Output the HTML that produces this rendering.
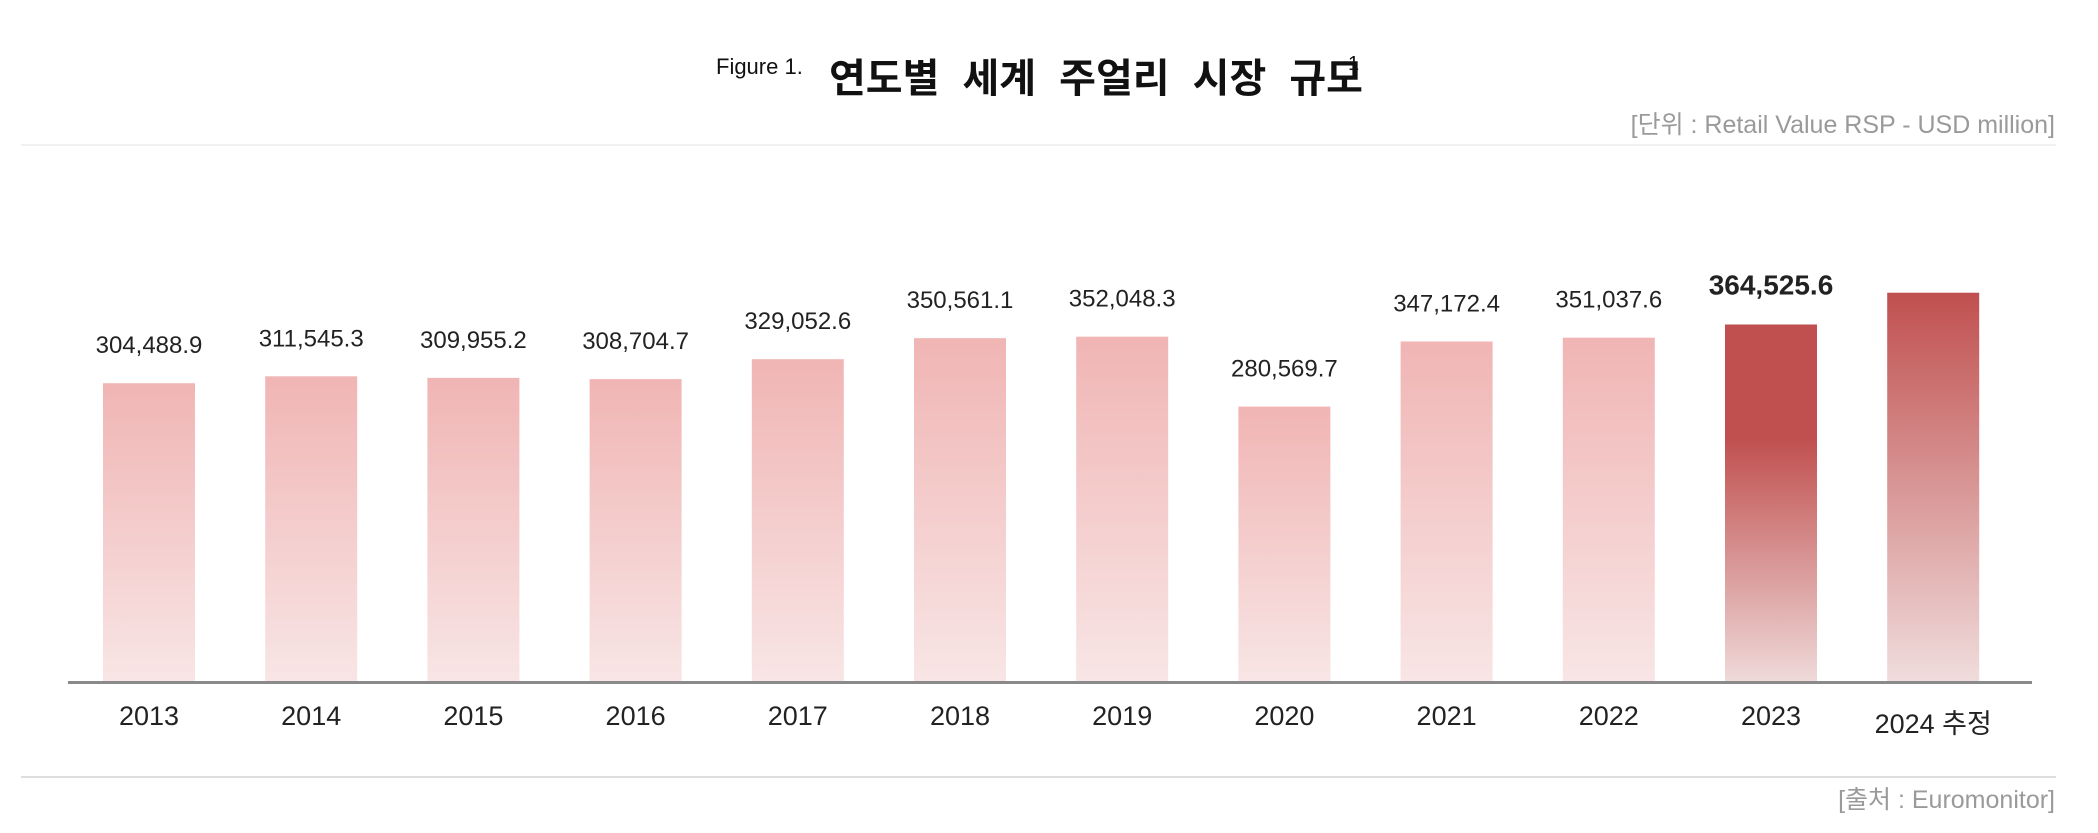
<!DOCTYPE html>
<html><head><meta charset="utf-8"><style>
html,body{margin:0;padding:0;background:#fff;}
body{width:2098px;height:833px;position:relative;overflow:hidden;font-family:"Liberation Sans","Noto Sans CJK KR",sans-serif;}
</style></head><body>
<svg id="chart" width="2098" height="833" viewBox="0 0 2098 833" xmlns="http://www.w3.org/2000/svg" style="position:absolute;left:0;top:0">
<defs>
<linearGradient id="gLight" x1="0" y1="0" x2="0" y2="1"><stop offset="0" stop-color="#f0b5b4"/><stop offset="1" stop-color="#f8e5e5"/></linearGradient>
<linearGradient id="g2023" x1="0" y1="0" x2="0" y2="1"><stop offset="0" stop-color="#c0504f"/><stop offset="0.32" stop-color="#c0504f"/><stop offset="1" stop-color="#efd9d9"/></linearGradient>
<linearGradient id="g2024" x1="0" y1="0" x2="0" y2="1"><stop offset="0" stop-color="#c0504f"/><stop offset="1" stop-color="#f0dcdc"/></linearGradient>
</defs>
<text x="716" y="74" font-size="22" fill="#111">Figure 1.</text>
<text x="829" y="92" font-size="40" font-weight="bold" fill="#111" word-spacing="14" font-family="'Noto Sans CJK KR',sans-serif">연도별 세계 주얼리 시장 규모</text>
<text x="1348" y="70" font-size="20" fill="#111">1</text>
<text x="2055" y="133" font-size="25" fill="#9a9a9a" text-anchor="end">[단위 : Retail Value RSP - USD million]</text>
<line x1="21" y1="145" x2="2056" y2="145" stroke="#f2f2f2" stroke-width="2"/>
<line x1="21" y1="777" x2="2056" y2="777" stroke="#dedede" stroke-width="2"/>
<text x="2055" y="808" font-size="25" fill="#9a9a9a" text-anchor="end">[출처 : Euromonitor]</text>
<g id="bars"></g>
<line x1="68" y1="682.5" x2="2032" y2="682.5" stroke="#8a8a8a" stroke-width="3"/>
</svg>
<script>
const categories = ["2013","2014","2015","2016","2017","2018","2019","2020","2021","2022","2023","2024 추정"];
const values = [304488.9,311545.3,309955.2,308704.7,329052.6,350561.1,352048.3,280569.7,347172.4,351037.6,364525.6,397000];
const valueLabels = ["304,488.9","311,545.3","309,955.2","308,704.7","329,052.6","350,561.1","352,048.3","280,569.7","347,172.4","351,037.6","364,525.6",""];
const NS="http://www.w3.org/2000/svg";
const baseY=681, pxPerUnit=0.000978, x0=103, step=162.2, bw=92;
function xPos(i){return x0+i*step;}
function yPos(v){return baseY-v*pxPerUnit;}
const g=document.getElementById('bars');
categories.forEach((c,i)=>{
  const x=xPos(i), y=yPos(values[i]);
  const r=document.createElementNS(NS,'rect');
  
  
  r.setAttribute('x',x);r.setAttribute('y',y);r.setAttribute('width',bw);r.setAttribute('height',baseY-y);
  r.setAttribute('fill', i===10?'url(#g2023)':(i===11?'url(#g2024)':'url(#gLight)'));
  g.appendChild(r);
  if(valueLabels[i]){
    const t=document.createElementNS(NS,'text');
    
    
    t.setAttribute('x',x+bw/2);t.setAttribute('y',y-30);
    t.setAttribute('text-anchor','middle');
    t.setAttribute('font-size',i===10?'28':'24');
    if(i===10)t.setAttribute('font-weight','bold');
    t.setAttribute('fill',i===10?'#222':'#222');
    t.textContent=valueLabels[i];
    g.appendChild(t);
  }
  const l=document.createElementNS(NS,'text');
  
  
  l.setAttribute('x',x+bw/2);l.setAttribute('y',i===11?733:725);
  l.setAttribute('text-anchor','middle');
  l.setAttribute('font-size','27');
  l.setAttribute('fill','#222');
  l.textContent=c;
  g.appendChild(l);
});
</script>
</body></html>
